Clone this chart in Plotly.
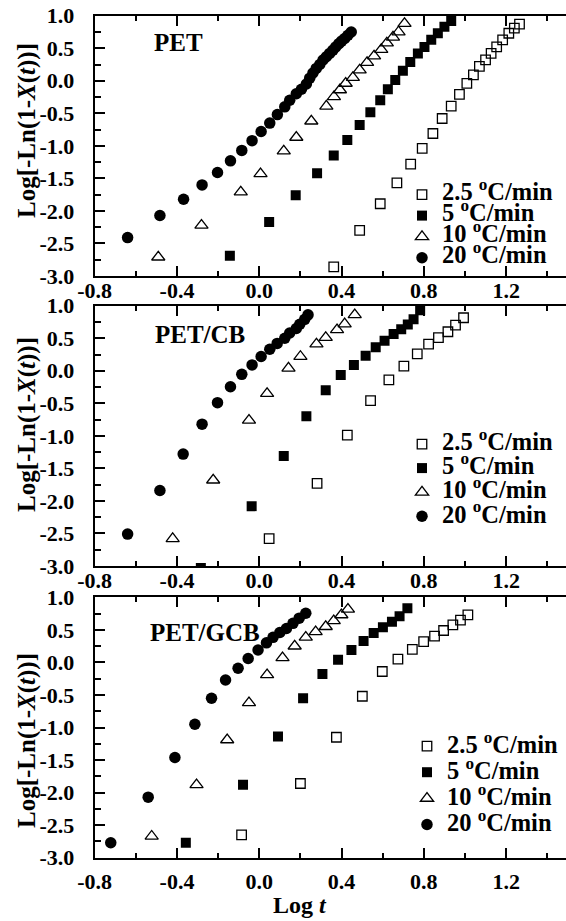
import plotly.graph_objects as go

FONT = "Liberation Serif"

# ---------------- data ----------------
rate_labels = ["2.5 <sup>o</sup>C/min", "5 <sup>o</sup>C/min",
               "10 <sup>o</sup>C/min", "20 <sup>o</sup>C/min"]
panel_names = ["PET", "PET/CB", "PET/GCB"]

x_ticks = [-0.8, -0.4, 0.0, 0.4, 0.8, 1.2]
x_tick_text = ["-0.8", "-0.4", "0.0", "0.4", "0.8", "1.2"]
x_minor = [-0.6, -0.2, 0.2, 0.6, 1.0, 1.4]
y_ticks = [1.0, 0.5, 0.0, -0.5, -1.0, -1.5, -2.0, -2.5, -3.0]
y_tick_text = ["1.0", "0.5", "0.0", "-0.5", "-1.0", "-1.5", "-2.0", "-2.5", "-3.0"]
y_minor = [0.75, 0.25, -0.25, -0.75, -1.25, -1.75, -2.25, -2.75]

# PET
pet_x25 = [0.362, 0.488, 0.588, 0.669, 0.736, 0.792, 0.844, 0.889, 0.933, 0.973,
           1.009, 1.041, 1.070, 1.100, 1.127, 1.154, 1.183, 1.213, 1.240, 1.265]
pet_y25 = [-2.86, -2.30, -1.89, -1.57, -1.28, -1.04, -0.81, -0.58, -0.39, -0.21,
           -0.04, 0.09, 0.22, 0.32, 0.42, 0.52, 0.63, 0.73, 0.81, 0.87]
pet_x5 = [-0.143, 0.048, 0.177, 0.281, 0.362, 0.428, 0.488, 0.540, 0.588, 0.625,
          0.661, 0.698, 0.734, 0.771, 0.803, 0.836, 0.868, 0.900, 0.933]
pet_y5 = [-2.69, -2.17, -1.76, -1.42, -1.15, -0.91, -0.68, -0.485, -0.30, -0.13,
          0.01, 0.155, 0.29, 0.42, 0.52, 0.63, 0.73, 0.83, 0.92]
pet_x10 = [-0.491, -0.281, -0.090, 0.006, 0.119, 0.180, 0.253, 0.326, 0.363, 0.392,
           0.420, 0.455, 0.488, 0.524, 0.558, 0.593, 0.620, 0.650, 0.677, 0.706]
pet_y10 = [-2.71, -2.22, -1.71, -1.43, -1.08, -0.87, -0.62, -0.39, -0.245, -0.14,
           -0.04, 0.05, 0.165, 0.28, 0.38, 0.48, 0.58, 0.67, 0.75, 0.88]
pet_x20 = [-0.640, -0.483, -0.368, -0.278, -0.203, -0.140, -0.085, -0.035, 0.009, 0.051,
           0.088, 0.124, 0.148, 0.180, 0.205, 0.229, 0.245, 0.261, 0.277, 0.294,
           0.310, 0.326, 0.342, 0.358, 0.372, 0.387, 0.400, 0.415, 0.431, 0.447]
pet_y20 = [-2.41, -2.07, -1.82, -1.60, -1.41, -1.23, -1.07, -0.92, -0.78, -0.65,
           -0.52, -0.40, -0.30, -0.20, -0.13, -0.05, 0.04, 0.12, 0.19, 0.25,
           0.32, 0.37, 0.42, 0.47, 0.52, 0.57, 0.61, 0.65, 0.70, 0.75]

# PET/CB
cb_x25 = [0.048, 0.281, 0.428, 0.541, 0.630, 0.703, 0.768, 0.823, 0.871, 0.917, 0.954, 0.993]
cb_y25 = [-2.58, -1.73, -0.99, -0.46, -0.14, 0.07, 0.26, 0.41, 0.51, 0.60, 0.70, 0.815]
cb_x5 = [-0.284, -0.037, 0.119, 0.229, 0.323, 0.396, 0.460, 0.517, 0.566, 0.609,
         0.653, 0.690, 0.722, 0.750, 0.782]
cb_y5 = [-3.03, -2.08, -1.31, -0.70, -0.30, -0.065, 0.09, 0.23, 0.36, 0.46,
         0.565, 0.64, 0.71, 0.79, 0.93]
cb_x10 = [-0.421, -0.224, -0.05, 0.038, 0.142, 0.200, 0.278, 0.323, 0.378, 0.415, 0.464]
cb_y10 = [-2.58, -1.68, -0.76, -0.35, 0.04, 0.22, 0.41, 0.51, 0.63, 0.72, 0.86]
cb_x20 = [-0.640, -0.483, -0.370, -0.278, -0.203, -0.140, -0.085, -0.035, 0.009, 0.051,
          0.087, 0.124, 0.148, 0.180, 0.197, 0.221, 0.237]
cb_y20 = [-2.51, -1.84, -1.28, -0.82, -0.49, -0.245, -0.055, 0.09, 0.22, 0.33,
          0.42, 0.50, 0.58, 0.65, 0.715, 0.79, 0.86]

# PET/GCB
gcb_x25 = [-0.086, 0.200, 0.375, 0.501, 0.598, 0.674, 0.744, 0.799, 0.852, 0.896,
           0.941, 0.978, 1.014]
gcb_y25 = [-2.65, -1.86, -1.15, -0.52, -0.14, 0.05, 0.20, 0.32, 0.405, 0.49,
           0.575, 0.65, 0.73]
gcb_x5 = [-0.357, -0.079, 0.091, 0.213, 0.307, 0.383, 0.448, 0.507, 0.556, 0.601,
          0.645, 0.682, 0.720]
gcb_y5 = [-2.77, -1.88, -1.14, -0.55, -0.18, 0.04, 0.19, 0.33, 0.45, 0.54,
          0.625, 0.71, 0.83]
gcb_x10 = [-0.523, -0.305, -0.156, -0.050, 0.038, 0.113, 0.172, 0.226, 0.274, 0.323,
           0.362, 0.399, 0.431]
gcb_y10 = [-2.67, -1.88, -1.19, -0.62, -0.19, 0.07, 0.25, 0.385, 0.47, 0.55,
           0.64, 0.73, 0.815]
gcb_x20 = [-0.722, -0.540, -0.410, -0.313, -0.232, -0.164, -0.103, -0.054, -0.006, 0.035,
           0.067, 0.100, 0.132, 0.164, 0.194, 0.226]
gcb_y20 = [-2.77, -2.07, -1.46, -0.95, -0.55, -0.27, -0.09, 0.06, 0.19, 0.30,
           0.385, 0.46, 0.52, 0.60, 0.68, 0.755]

panels = [
    [(pet_x25, pet_y25), (pet_x5, pet_y5), (pet_x10, pet_y10), (pet_x20, pet_y20)],
    [(cb_x25, cb_y25), (cb_x5, cb_y5), (cb_x10, cb_y10), (cb_x20, cb_y20)],
    [(gcb_x25, gcb_y25), (gcb_x5, gcb_y5), (gcb_x10, gcb_y10), (gcb_x20, gcb_y20)],
]

# ---------------- styling ----------------
W, H = 566, 921
markers = [
    dict(symbol="square-open", size=9.5, color="black", line=dict(width=1.3, color="black")),
    dict(symbol="square", size=10, color="black"),
    dict(symbol="triangle-up-open", size=11.5, color="black", line=dict(width=1.3, color="black")),
    dict(symbol="circle", size=11.5, color="black"),
]
# plot areas in pixels (top, bottom)
panel_px = [(15.7, 276.0), (305.7, 566.0), (597.3, 857.7)]
x_left_px = 94.7
x_label_standoff = [-6, -6, 3]
legend_tops = [179.0, 427.0, 728.0]
legend_fs = [13.9, 16.2, 17.8]
legend_x_px = [402, 402, 407]
label_pos = [(178, 42), (200, 335), (205, 632)]
ytitle_centers = [131, 425, 741]

TICK_FS = 22
fig = go.Figure()

for p, series in enumerate(panels):
    xa = "x" if p == 0 else f"x{p+1}"
    ya = "y" if p == 0 else f"y{p+1}"
    leg = "legend" if p == 0 else f"legend{p+1}"
    for s, (xs, ys) in enumerate(series):
        fig.add_trace(go.Scatter(
            x=xs, y=ys, mode="markers", marker=markers[s],
            name=f'<span style="font-size:24.5px">{rate_labels[s]}</span>',
            xaxis=xa, yaxis=ya, legend=leg, showlegend=True,
        ))

layout = dict(
    width=W, height=H, autosize=False,
    margin=dict(l=0, r=0, t=0, b=0, autoexpand=False),
    paper_bgcolor="white", plot_bgcolor="white",
    font=dict(family=FONT, color="black", size=TICK_FS, weight="bold"),
    annotations=[],
)

for p in range(3):
    top, bot = panel_px[p]
    sfx = "" if p == 0 else str(p + 1)
    ydom = [1 - bot / H, 1 - top / H]
    layout["xaxis" + sfx] = dict(
        domain=[x_left_px / W, 1.0], range=[-0.8, 1.491],
        anchor="y" + sfx, automargin=False,
        tickmode="array", tickvals=x_ticks, ticktext=x_tick_text,
        ticks="inside", ticklen=10, tickwidth=1.5, tickcolor="black",
        minor=dict(tickmode="array", tickvals=x_minor, ticks="inside",
                   ticklen=5, tickwidth=1.5, tickcolor="black", showgrid=False),
        showline=True, linecolor="black", linewidth=2, mirror="allticks",
        showgrid=False, zeroline=False,
        tickfont=dict(family=FONT, size=TICK_FS, color="black", weight="bold"),
        ticklabelstandoff=x_label_standoff[p],
    )
    layout["yaxis" + sfx] = dict(
        domain=ydom, range=[-3.0, 1.0], anchor="x" + sfx, automargin=False,
        tickmode="array", tickvals=y_ticks, ticktext=y_tick_text,
        ticks="inside", ticklen=10, tickwidth=1.5, tickcolor="black",
        minor=dict(tickmode="array", tickvals=y_minor, ticks="inside",
                   ticklen=6, tickwidth=1.5, tickcolor="black", showgrid=False),
        showline=True, linecolor="black", linewidth=2, mirror=False,
        showgrid=False, zeroline=False,
        tickfont=dict(family=FONT, size=TICK_FS, color="black", weight="bold"),
        ticklabelstandoff=14,
    )
    leg_key = "legend" if p == 0 else f"legend{p+1}"
    layout[leg_key] = dict(
        x=legend_x_px[p] / W, xanchor="left",
        y=1 - legend_tops[p] / H, yanchor="top",
        bgcolor="rgba(0,0,0,0)", borderwidth=0,
        font=dict(family=FONT, size=legend_fs[p], color="black", weight="bold"),
        itemwidth=30, tracegroupgap=0,
    )
    lx, ly = label_pos[p]
    layout["annotations"].append(dict(
        text=panel_names[p], xref="paper", yref="paper",
        x=lx / W, y=1 - ly / H, xanchor="center", yanchor="middle",
        showarrow=False, font=dict(family=FONT, size=25, color="black", weight="bold"),
    ))
    layout["annotations"].append(dict(
        text="Log[-Ln(1-<i>X</i>(<i>t</i>))]", xref="paper", yref="paper",
        x=27 / W, y=1 - ytitle_centers[p] / H, xanchor="center", yanchor="middle",
        textangle=-90, showarrow=False,
        font=dict(family=FONT, size=25, color="black", weight="bold"),
    ))

layout["annotations"].append(dict(
    text="Log <i>t</i>", xref="paper", yref="paper",
    x=300 / W, y=1 - 905 / H, xanchor="center", yanchor="middle",
    showarrow=False, font=dict(family=FONT, size=24, color="black", weight="bold"),
))

fig.update_layout(**layout)
fig.write_html("out.html", config={"displayModeBar": False},
               post_script="document.body.style.margin='0';document.body.style.overflow='hidden';")
